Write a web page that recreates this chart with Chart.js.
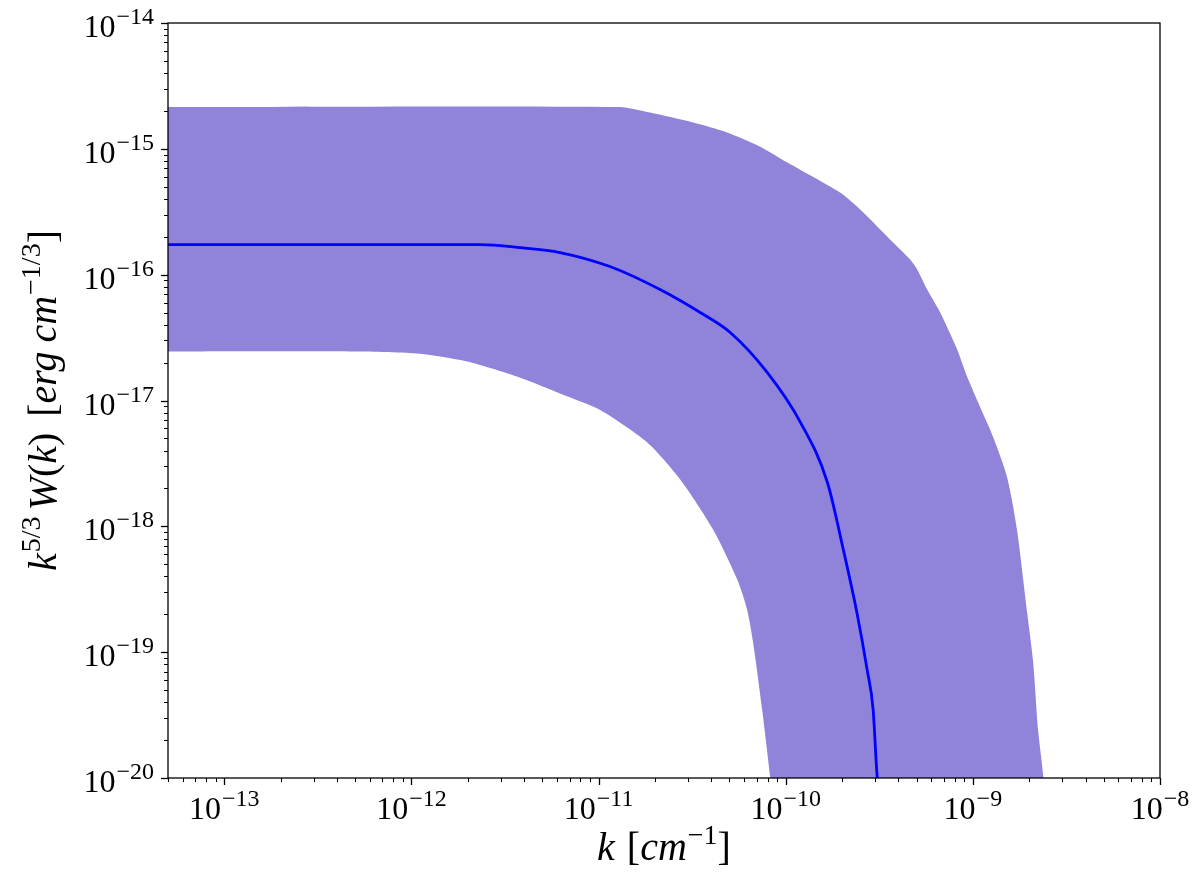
<!DOCTYPE html>
<html>
<head>
<meta charset="utf-8">
<script src="https://cdn.jsdelivr.net/npm/chart.js@4.4.1/dist/chart.umd.min.js"></script>
<style>
html,body{margin:0;padding:0;background:#fff;}
</style>
</head>
<body>
<canvas id="resultChart" width="1200" height="880"></canvas>
<script>
// k [cm^-1] and k^(5/3) W(k)
const midK = [5e-14, 2.33e-12, 3.8e-12, 6.22e-12, 1.15e-11, 2.13e-11, 3.49e-11, 5.05e-11, 7.96e-11, 1.2e-10, 1.67e-10, 2.03e-10, 2.41e-10, 2.72e-10, 2.93e-10, 3.08e-10, 3.2e-10];
const midV = [1.73e-16, 1.73e-16, 1.64e-16, 1.5e-16, 1.16e-16, 7.61e-17, 5.0e-17, 3.47e-17, 1.67e-17, 6.68e-18, 2.23e-18, 6.55e-19, 2.0e-19, 7.3e-20, 3.51e-20, 1.03e-20, 6.8e-21];

const upK = [5e-14, 1.3e-11, 1.88e-11, 3.2e-11, 4.86e-11, 7.3e-11, 1.02e-10, 1.95e-10, 2.5e-10, 3.48e-10, 4.62e-10, 5.04e-10, 5.7e-10, 6.69e-10, 8.24e-10, 9.31e-10, 1.09e-9, 1.28e-9, 1.52e-9, 1.72e-9, 1.95e-9, 2.1e-9, 2.23e-9, 2.38e-9, 2.43e-9];
const upV = [2.15e-15, 2.15e-15, 1.94e-15, 1.62e-15, 1.35e-15, 1.04e-15, 7.77e-16, 4.49e-16, 3.29e-16, 2.01e-16, 1.32e-16, 1.1e-16, 7.61e-17, 5.0e-17, 2.54e-17, 1.55e-17, 8.96e-18, 5.18e-18, 2.49e-18, 9.44e-19, 2.07e-19, 8.3e-20, 2.44e-20, 1.03e-20, 6.8e-21];

const lowK = [5e-14, 4.7e-13, 1.07e-12, 1.98e-12, 3.66e-12, 6.78e-12, 1.02e-11, 1.82e-11, 2.73e-11, 4.09e-11, 5.5e-11, 6.21e-11, 6.69e-11, 7.48e-11, 8.25e-11, 8.45e-11];
const lowV = [2.45e-17, 2.45e-17, 2.36e-17, 2.04e-17, 1.55e-17, 1.08e-17, 8.4e-18, 4.64e-18, 2.36e-18, 9.44e-19, 3.79e-19, 2.19e-19, 1.2e-19, 3.51e-20, 1.03e-20, 6.8e-21];

const xTickExps = [-13, -12, -11, -10, -9, -8];
const yTickExps = [-20, -19, -18, -17, -16, -15, -14];
const xMin = 5e-14, xMax = 1e-8, yMin = 1e-20, yMax = 1e-14;

const SERIF = '"Liberation Serif", "DejaVu Serif", serif';

// band as one closed shape: upper edge left->right, lower edge back
let band = upK.map((k, i) => ({x: k, y: upV[i]}));
band = band.concat(lowK.map((k, i) => ({x: k, y: lowV[i]})).reverse());
const mid = midK.map((k, i) => ({x: k, y: midV[i]}));

function runsWidth(ctx, runs) {
  let w = 0;
  runs.forEach(r => { ctx.font = r.f; w += ctx.measureText(r.t).width + (r.gap || 0); });
  return w;
}
function paintRuns(ctx, runs, x, y) {
  runs.forEach(r => {
    ctx.font = r.f;
    ctx.fillText(r.t, x, y - (r.up || 0));
    x += ctx.measureText(r.t).width + (r.gap || 0);
  });
}
function powRuns(e) {
  return [
    {t: '10', f: '32px ' + SERIF, gap: 1},
    {t: '\u2212' + Math.abs(e), f: '24px ' + SERIF, up: 13}
  ];
}

const axesPlugin = {
  id: 'axesPlugin',
  afterDraw(chart) {
    const ctx = chart.ctx;
    const a = chart.chartArea;
    const xs = chart.scales.x, ys = chart.scales.y;
    ctx.save();
    ctx.strokeStyle = '#000';
    ctx.fillStyle = '#000';
    ctx.lineWidth = 1.3;
    ctx.strokeRect(a.left, a.top, a.right - a.left, a.bottom - a.top);

    // ticks
    for (let e = -14; e <= -8; e++) {
      for (let m = 1; m <= 9; m++) {
        const v = m * Math.pow(10, e);
        const len = m === 1 ? 7 : 4;
        ctx.lineWidth = m === 1 ? 1.3 : 1;
        if (v >= xMin * 0.999 && v <= xMax * 1.001) {
          const px = Math.round(xs.getPixelForValue(v)) + 0.5;
          ctx.beginPath(); ctx.moveTo(px, a.bottom); ctx.lineTo(px, a.bottom + len); ctx.stroke();
        }
      }
    }
    for (let e = -20; e <= -14; e++) {
      for (let m = 1; m <= 9; m++) {
        const v = m * Math.pow(10, e);
        const len = m === 1 ? 7 : 4;
        ctx.lineWidth = m === 1 ? 1.3 : 1;
        if (v >= yMin * 0.999 && v <= yMax * 1.001) {
          const py = Math.round(ys.getPixelForValue(v)) + 0.5;
          ctx.beginPath(); ctx.moveTo(a.left, py); ctx.lineTo(a.left - len, py); ctx.stroke();
        }
      }
    }

    // tick labels
    ctx.textAlign = 'left';
    ctx.textBaseline = 'alphabetic';
    xTickExps.forEach(e => {
      const runs = powRuns(e);
      const w = runsWidth(ctx, runs);
      const px = xs.getPixelForValue(Math.pow(10, e));
      paintRuns(ctx, runs, px - w / 2, a.bottom + 41);
    });
    yTickExps.forEach(e => {
      const runs = powRuns(e);
      const w = runsWidth(ctx, runs);
      const py = ys.getPixelForValue(Math.pow(10, e));
      paintRuns(ctx, runs, a.left - 14 - w, py + 14);
    });

    // axis titles
    const it = 'italic 40px ' + SERIF, rm = '40px ' + SERIF, sup = '28px ' + SERIF;
    const xRuns = [
      {t: 'k', f: it, gap: 12},
      {t: '[', f: rm},
      {t: 'cm', f: it, gap: 1},
      {t: '\u22121', f: sup, up: 16},
      {t: ']', f: rm}
    ];
    let w = runsWidth(ctx, xRuns);
    paintRuns(ctx, xRuns, (a.left + a.right) / 2 - w / 2, 860);

    const yRuns = [
      {t: 'k', f: it, gap: 1},
      {t: '5/3', f: sup, up: 16, gap: 6},
      {t: 'W', f: it},
      {t: '(', f: rm},
      {t: 'k', f: it},
      {t: ')', f: rm, gap: 16},
      {t: '[', f: rm},
      {t: 'erg', f: it, gap: 9},
      {t: 'cm', f: it, gap: 1},
      {t: '\u22121/3', f: sup, up: 16},
      {t: ']', f: rm}
    ];
    w = runsWidth(ctx, yRuns);
    ctx.translate(56, (a.top + a.bottom) / 2);
    ctx.rotate(-Math.PI / 2);
    paintRuns(ctx, yRuns, -w / 2, 0);
    ctx.restore();
  }
};

let chart = document.getElementById('resultChart');
window.myChart = new Chart(chart, {
  type: 'line',
  data: {
    datasets: [{
      label: 'mean',
      data: mid,
      borderColor: 'rgb(0,0,255)',
      borderWidth: 2.8,
      pointRadius: 0,
      cubicInterpolationMode: 'monotone',
      fill: false
    }, {
      label: 'band',
      data: band,
      borderWidth: 0,
      borderColor: 'rgba(0,0,0,0)',
      backgroundColor: 'rgba(106,90,205,0.75)',
      pointRadius: 0,
      tension: 0.25,
      fill: 'shape'
    }]
  },
  options: {
    responsive: false,
    animation: false,
    devicePixelRatio: 1,
    layout: {padding: {left: 168, top: 23, right: 40, bottom: 102}},
    plugins: {legend: {display: false}, tooltip: {enabled: false}},
    scales: {
      x: {type: 'logarithmic', min: xMin, max: xMax, display: false},
      y: {type: 'logarithmic', min: yMin, max: yMax, display: false}
    }
  },
  plugins: [axesPlugin]
});
</script>
</body>
</html>
